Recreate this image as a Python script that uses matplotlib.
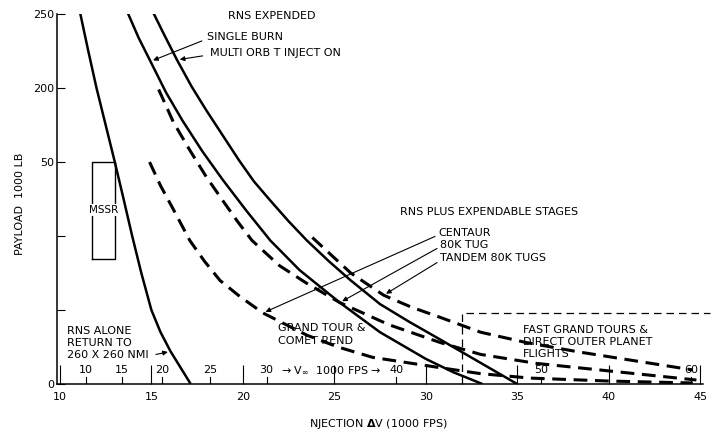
import numpy as np
import matplotlib.pyplot as plt

# injection delta-V (1000 fps) vs payload (1000 lb)
rns_alone_dv = [11.1, 11.55, 12.0, 12.5, 13.0, 13.48, 13.95, 14.45, 15.0, 15.5, 16.05, 16.6, 17.15]
rns_alone_p = [251, 225, 200, 175, 150, 125, 100, 75, 50, 35, 22, 11, 0]

single_burn_dv = [13.7, 14.3, 14.95, 15.8, 16.7, 17.8, 18.9, 20.2, 21.5, 23.1, 25.3, 27.5, 30.0, 31.5, 33.1]
single_burn_p = [251, 234, 218, 197, 178, 157, 138, 117, 97, 77, 55, 35, 17, 8, 0]

multi_orbit_dv = [15.1, 15.7, 16.4, 17.2, 18.0, 18.9, 19.8, 20.6, 21.5, 22.5, 23.5, 24.7,
                  25.9, 27.5, 29.1, 30.8, 32.9, 35.0]
multi_orbit_p = [251, 236, 219, 201, 185, 168, 151, 137, 124, 110, 97, 83,
                 70, 54, 42, 30, 15, 0]

centaur_dv = [14.9, 15.5, 16.2, 17.1, 17.9, 18.75, 19.85, 21.1, 23.5, 25.2, 27.1, 30.8, 33.0, 35.7, 40.0, 44.6]
centaur_p = [150, 134, 118, 97, 83, 70, 59, 48, 33, 25, 18, 11, 7, 4, 2, 0.7]

tug_dv = [15.4, 16.2, 17.1, 18.0, 18.9, 19.7, 20.5, 22.0, 23.5, 25.3, 28.0, 30.8, 33.0, 36.0, 39.5, 44.8]
tug_p = [199, 177, 158, 140, 124, 110, 97, 80, 68, 55, 40, 28, 20, 14, 9.5, 2.7]

tandem_dv = [23.8, 25.9, 27.7, 29.2, 30.8, 33.0, 35.5, 38.4, 44.6]
tandem_p = [99, 75, 60, 52, 45, 35, 28, 21.6, 9.5]

# MSSR requirement block
mssr_dv = [11.75, 13.0]
mssr_p = [84.5, 150]

# hyperbolic excess speed scale drawn along the bottom
vinf_dv = [11.4, 13.4, 15.6, 18.2, 21.3, 28.4, 36.3, 44.5]
vinf_labels = ['10', '15', '20', '25', '30', '40', '50', '60']

x_ticks = [10, 15, 20, 25, 30, 35, 40, 45]
y_ticks = [0, 50, 100, 150, 200, 250]
y_tick_labels = ['0', '', '', '50', '200', '250']

box_dv = [32.0, 32.0, 45.55]
box_p = [0, 48, 48]

plt.rcParams['font.family'] = 'DejaVu Sans'
plt.rcParams['font.size'] = 8

fig = plt.figure(figsize=(7.18, 4.34), dpi=100)
ax = fig.add_axes([0.0794, 0.1152, 0.8997, 0.8525])

solid = dict(color='black', lw=1.8, solid_capstyle='butt', solid_joinstyle='round')
dashed = dict(color='black', lw=2.2, dashes=(4.5, 2.5))

ax.plot(rns_alone_dv, rns_alone_p, **solid)
ax.plot(single_burn_dv, single_burn_p, **solid)
ax.plot(multi_orbit_dv, multi_orbit_p, **solid)
ax.plot(centaur_dv, centaur_p, **dashed)
ax.plot(tug_dv, tug_p, **dashed)
ax.plot(tandem_dv, tandem_p, **dashed)

# MSSR box, edges broken behind its label
ax.plot([mssr_dv[0], mssr_dv[0], mssr_dv[1], mssr_dv[1], mssr_dv[0]],
        [mssr_p[0], mssr_p[1], mssr_p[1], mssr_p[0], mssr_p[0]], color='black', lw=1.0)
ax.text(sum(mssr_dv) / 2, 117.5, 'MSSR', ha='center', va='center', fontsize=7.5,
        bbox=dict(facecolor='white', edgecolor='none', pad=1.0))

# region of fast grand tours
ax.plot(box_dv, box_p, color='black', lw=0.9, dashes=(6, 4), clip_on=False)

ax.set_xlim(9.84, 45.16)
ax.set_ylim(0, 250)
for side in ['top', 'right']:
    ax.spines[side].set_visible(False)
for side in ['left', 'bottom']:
    ax.spines[side].set_linewidth(1.1)

ax.set_xticks(x_ticks)
ax.set_xticklabels([str(t) for t in x_ticks])
ax.tick_params(axis='x', direction='in', length=14, width=0.8, pad=6)
ax.set_yticks(y_ticks)
ax.set_yticklabels(y_tick_labels)
ax.tick_params(axis='y', direction='in', length=6, width=0.8, pad=2)

ax.set_xlabel('NJECTION $\\mathbf{\\Delta}$V (1000 FPS)', fontsize=8)
ax.xaxis.set_label_coords(0.497, -0.088)
ax.set_ylabel('PAYLOAD  1000 LB', fontsize=8)
ax.yaxis.set_label_coords(-0.05, 0.486)

# V-infinity scale
for dv, lab in zip(vinf_dv, vinf_labels):
    ax.plot([dv, dv], [0, 5], color='black', lw=0.8)
    ax.text(dv, 9.5, lab, ha='center', va='center', fontsize=8)
ax.text(24.85, 9.5, '\u2192 V$_\\infty$  1000 FPS \u2192', ha='center', va='center', fontsize=8)

arrow = dict(arrowstyle='-|>', color='black', lw=0.8, mutation_scale=7)

ax.text(19.2, 248.6, 'RNS EXPENDED', ha='left', va='center')
ax.text(18.05, 234.5, 'SINGLE BURN', ha='left', va='center')
ax.text(18.2, 223.6, 'MULTI ORB T INJECT ON', ha='left', va='center')
ax.annotate('', xy=(single_burn_dv[2], single_burn_p[2]), xytext=(17.9, 232.5), arrowprops=arrow)
ax.annotate('', xy=(multi_orbit_dv[2], multi_orbit_p[2]), xytext=(17.95, 222.0), arrowprops=arrow)

ax.text(28.6, 116.2, 'RNS PLUS EXPENDABLE STAGES', ha='left', va='center')
ax.text(30.7, 102.0, 'CENTAUR', ha='left', va='center')
ax.text(30.8, 93.9, '80K TUG', ha='left', va='center')
ax.text(30.8, 85.1, 'TANDEM 80K TUGS', ha='left', va='center')
ax.annotate('', xy=(centaur_dv[7], centaur_p[7]), xytext=(30.65, 100.5), arrowprops=arrow)
ax.annotate('', xy=(tug_dv[9], tug_p[9]), xytext=(30.75, 92.5), arrowprops=arrow)
ax.annotate('', xy=(tandem_dv[2], tandem_p[2]), xytext=(30.75, 83.0), arrowprops=arrow)

ax.text(10.4, 27.7, 'RNS ALONE\nRETURN TO\n260 X 260 NMI', ha='left', va='center', linespacing=1.3)
ax.annotate('', xy=(rns_alone_dv[10], rns_alone_p[10]), xytext=(15.1, 19.6), arrowprops=arrow)

ax.text(21.9, 33.5, 'GRAND TOUR &\nCOMET REND', ha='left', va='center', linespacing=1.3)
ax.text(35.3, 28.6, 'FAST GRAND TOURS &\nDIRECT OUTER PLANET\nFLIGHTS', ha='left', va='center', linespacing=1.25)

fig.savefig('out.png', dpi=100)
